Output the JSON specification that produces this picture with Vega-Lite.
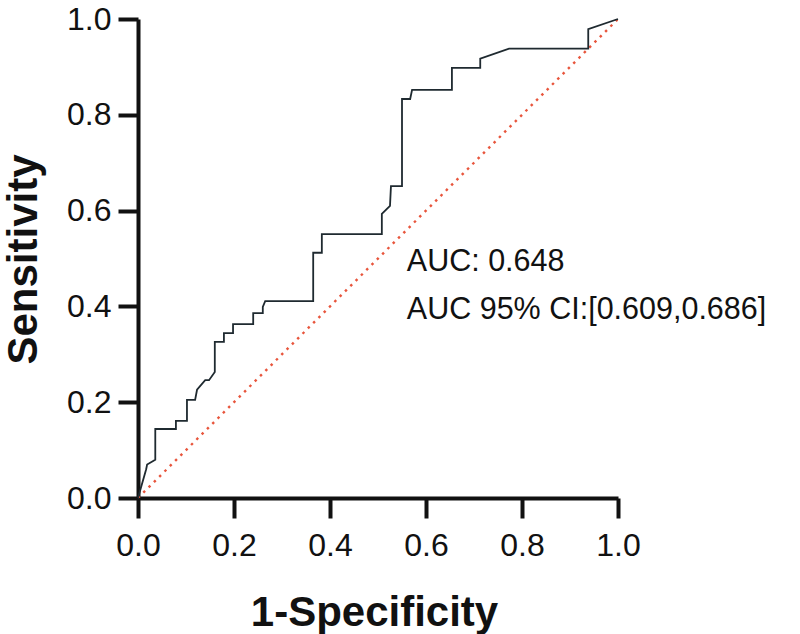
{
  "$schema": "https://vega.github.io/schema/vega-lite/v6.json",
  "width": 480,
  "height": 479,
  "autosize": {"type": "none"},
  "padding": {"left": 138, "top": 19, "right": 182, "bottom": 136},
  "background": "white",
  "view": {"stroke": null},
  "config": {
    "font": "Liberation Sans",
    "axis": {
      "domainColor": "#111111",
      "domainWidth": 4,
      "tickColor": "#111111",
      "tickWidth": 4,
      "tickSize": 20,
      "grid": false,
      "labelFlush": false,
      "labelFont": "Liberation Sans",
      "labelFontSize": 32,
      "labelColor": "#111111",
      "titleFont": "Liberation Sans",
      "titleFontSize": 42,
      "titleFontWeight": "bold",
      "titleColor": "#111111"
    }
  },
  "datasets": {
    "roc": [
      {"i": 0, "fpr": 0.0, "tpr": 0.0},
      {"i": 1, "fpr": 0.017, "tpr": 0.06},
      {"i": 2, "fpr": 0.019, "tpr": 0.07},
      {"i": 3, "fpr": 0.036, "tpr": 0.08},
      {"i": 4, "fpr": 0.036, "tpr": 0.144},
      {"i": 5, "fpr": 0.079, "tpr": 0.144},
      {"i": 6, "fpr": 0.079, "tpr": 0.161},
      {"i": 7, "fpr": 0.102, "tpr": 0.161},
      {"i": 8, "fpr": 0.102, "tpr": 0.205},
      {"i": 9, "fpr": 0.119, "tpr": 0.205},
      {"i": 10, "fpr": 0.123, "tpr": 0.226},
      {"i": 11, "fpr": 0.14, "tpr": 0.246},
      {"i": 12, "fpr": 0.148, "tpr": 0.246},
      {"i": 13, "fpr": 0.16, "tpr": 0.263},
      {"i": 14, "fpr": 0.16, "tpr": 0.326},
      {"i": 15, "fpr": 0.179, "tpr": 0.326},
      {"i": 16, "fpr": 0.179, "tpr": 0.344},
      {"i": 17, "fpr": 0.198, "tpr": 0.344},
      {"i": 18, "fpr": 0.198, "tpr": 0.363},
      {"i": 19, "fpr": 0.24, "tpr": 0.363},
      {"i": 20, "fpr": 0.24, "tpr": 0.386},
      {"i": 21, "fpr": 0.26, "tpr": 0.386},
      {"i": 22, "fpr": 0.26, "tpr": 0.399},
      {"i": 23, "fpr": 0.265, "tpr": 0.411},
      {"i": 24, "fpr": 0.365, "tpr": 0.411},
      {"i": 25, "fpr": 0.365, "tpr": 0.512},
      {"i": 26, "fpr": 0.383, "tpr": 0.512},
      {"i": 27, "fpr": 0.383, "tpr": 0.551},
      {"i": 28, "fpr": 0.508, "tpr": 0.551},
      {"i": 29, "fpr": 0.508, "tpr": 0.593},
      {"i": 30, "fpr": 0.525, "tpr": 0.61},
      {"i": 31, "fpr": 0.527, "tpr": 0.651},
      {"i": 32, "fpr": 0.55, "tpr": 0.651},
      {"i": 33, "fpr": 0.55, "tpr": 0.833},
      {"i": 34, "fpr": 0.567, "tpr": 0.833},
      {"i": 35, "fpr": 0.571, "tpr": 0.852},
      {"i": 36, "fpr": 0.654, "tpr": 0.852},
      {"i": 37, "fpr": 0.654, "tpr": 0.898},
      {"i": 38, "fpr": 0.713, "tpr": 0.898},
      {"i": 39, "fpr": 0.713, "tpr": 0.917},
      {"i": 40, "fpr": 0.773, "tpr": 0.938},
      {"i": 41, "fpr": 0.938, "tpr": 0.938},
      {"i": 42, "fpr": 0.938, "tpr": 0.979},
      {"i": 43, "fpr": 1.0, "tpr": 1.0}
    ],
    "diag": [
      {"i": 0, "fpr": 0.0, "tpr": 0.0},
      {"i": 1, "fpr": 1.0, "tpr": 1.0}
    ],
    "labels": [
      {"fpr": 0.56, "tpr": 0.493, "text": "AUC: 0.648"},
      {"fpr": 0.56, "tpr": 0.392, "text": "AUC 95% CI:[0.609,0.686]"}
    ]
  },
  "layer": [
    {
      "data": {"name": "diag"},
      "mark": {"type": "line", "color": "#e8553c", "strokeWidth": 2.4, "strokeDash": [2.5, 5], "clip": true},
      "encoding": {
        "x": {
          "field": "fpr", "type": "quantitative",
          "scale": {"domain": [0, 1], "nice": false, "zero": false},
          "axis": {
            "title": "1-Specificity",
            "values": [0, 0.2, 0.4, 0.6, 0.8, 1.0],
            "format": ".1f",
            "labelPadding": 12,
            "titleBaseline": "alphabetic",
            "titleY": 127,
            "titleX": 236
          }
        },
        "y": {
          "field": "tpr", "type": "quantitative",
          "scale": {"domain": [0, 1], "nice": false, "zero": false},
          "axis": {
            "title": "Sensitivity",
            "values": [0, 0.2, 0.4, 0.6, 0.8, 1.0],
            "format": ".1f",
            "labelPadding": 7,
            "titleBaseline": "alphabetic",
            "titleX": -102,
            "titleY": 240,
            "titleAngle": -90
          }
        },
        "order": {"field": "i", "type": "quantitative"}
      }
    },
    {
      "data": {"name": "roc"},
      "mark": {"type": "line", "color": "#1f2a30", "strokeWidth": 1.8, "interpolate": "linear"},
      "encoding": {
        "x": {"field": "fpr", "type": "quantitative"},
        "y": {"field": "tpr", "type": "quantitative"},
        "order": {"field": "i", "type": "quantitative"}
      }
    },
    {
      "data": {"name": "labels"},
      "mark": {"type": "text", "align": "left", "baseline": "middle", "fontSize": 30.5, "font": "Liberation Sans", "color": "#111111"},
      "encoding": {
        "x": {"field": "fpr", "type": "quantitative"},
        "y": {"field": "tpr", "type": "quantitative"},
        "text": {"field": "text"}
      }
    }
  ]
}
